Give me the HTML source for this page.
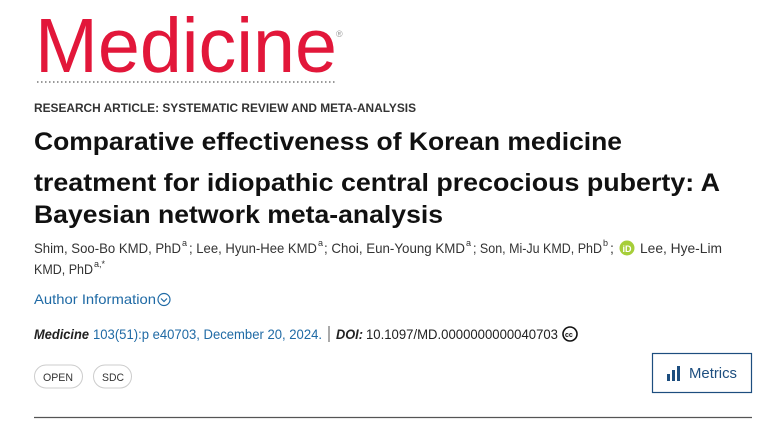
<!DOCTYPE html>
<html><head><meta charset="utf-8"><style>
html,body{margin:0;padding:0;background:#fff;width:773px;height:423px;overflow:hidden}
svg{display:block}
text{font-family:"Liberation Sans",sans-serif}
</style></head><body>
<svg width="773" height="423" viewBox="0 0 773 423">
<text x="35" y="72" font-size="77" fill="#e2173a" textLength="302" lengthAdjust="spacingAndGlyphs">Medicine</text>
<text x="336" y="37" font-size="9" fill="#999">®</text>
<line x1="37" y1="82" x2="337" y2="82" stroke="#999" stroke-width="2" stroke-dasharray="1.5 2.5"/>
<text x="34" y="112" font-size="12" font-weight="bold" fill="#333" textLength="382" lengthAdjust="spacingAndGlyphs">RESEARCH ARTICLE: SYSTEMATIC REVIEW AND META-ANALYSIS</text>
<g font-size="25" font-weight="bold" fill="#111">
<text x="34" y="150" textLength="588" lengthAdjust="spacingAndGlyphs">Comparative effectiveness of Korean medicine</text>
<text x="34" y="191" textLength="686" lengthAdjust="spacingAndGlyphs">treatment for idiopathic central precocious puberty: A</text>
<text x="34" y="223" textLength="409" lengthAdjust="spacingAndGlyphs">Bayesian network meta-analysis</text>
</g>
<g font-size="14" fill="#333">
<text x="34" y="253" textLength="147" lengthAdjust="spacingAndGlyphs">Shim, Soo-Bo KMD, PhD</text>
<text x="182" y="246" font-size="9">a</text>
<text x="189" y="253" textLength="128" lengthAdjust="spacingAndGlyphs">; Lee, Hyun-Hee KMD</text>
<text x="318" y="246" font-size="9">a</text>
<text x="324" y="253" textLength="141" lengthAdjust="spacingAndGlyphs">; Choi, Eun-Young KMD</text>
<text x="466" y="246" font-size="9">a</text>
<text x="473" y="253" textLength="129" lengthAdjust="spacingAndGlyphs">; Son, Mi-Ju KMD, PhD</text>
<text x="603" y="246" font-size="9">b</text>
<text x="610" y="253">;</text>
<g><circle cx="627" cy="248" r="7.5" fill="#a6ce39"/><text x="622.5" y="252" font-size="9" fill="#fff" font-weight="bold">iD</text></g>
<text x="640" y="253" textLength="82" lengthAdjust="spacingAndGlyphs">Lee, Hye-Lim</text>
<text x="34" y="274" textLength="59" lengthAdjust="spacingAndGlyphs">KMD, PhD</text>
<text x="94" y="267" font-size="9">a,*</text>
</g>
<g>
<text x="34" y="304" font-size="14" fill="#1f6aa5" textLength="122" lengthAdjust="spacingAndGlyphs">Author Information</text>
<circle cx="164" cy="299.5" r="6" fill="none" stroke="#1f6aa5" stroke-width="1.2"/>
<path d="M161 298.5 L164 301.5 L167 298.5" fill="none" stroke="#1f6aa5" stroke-width="1.2"/>
</g>
<g font-size="14">
<text x="34" y="339" font-weight="bold" font-style="italic" fill="#222" textLength="55" lengthAdjust="spacingAndGlyphs">Medicine</text>
<text x="93" y="339" fill="#1f6aa5" textLength="229" lengthAdjust="spacingAndGlyphs">103(51):p e40703, December 20, 2024.</text>
<line x1="329" y1="326" x2="329" y2="342" stroke="#555" stroke-width="1"/>
<text x="336" y="339" font-weight="bold" font-style="italic" fill="#222" textLength="27" lengthAdjust="spacingAndGlyphs">DOI:</text>
<text x="366" y="339" fill="#222" textLength="192" lengthAdjust="spacingAndGlyphs">10.1097/MD.0000000000040703</text>
<g><circle cx="570" cy="334" r="7" fill="#fff" stroke="#111" stroke-width="1.6"/><text x="565" y="337" font-size="7" font-weight="bold" fill="#111">cc</text></g>
</g>
<g>
<rect x="34.5" y="365" width="48" height="23" rx="11.5" fill="#fff" stroke="#ccc"/>
<text x="43" y="381" font-size="11" fill="#333" textLength="30" lengthAdjust="spacingAndGlyphs">OPEN</text>
</g>
<g>
<rect x="93.5" y="365" width="38" height="23" rx="11.5" fill="#fff" stroke="#ccc"/>
<text x="102" y="381" font-size="11" fill="#333" textLength="22" lengthAdjust="spacingAndGlyphs">SDC</text>
</g>
<g>
<rect x="652.5" y="353.5" width="99" height="39" fill="#fff" stroke="#1d4e7f" stroke-width="1.2"/>
<rect x="667" y="374" width="3" height="7" fill="#1d4e7f"/>
<rect x="672" y="370" width="3" height="11" fill="#1d4e7f"/>
<rect x="677" y="366" width="3" height="15" fill="#1d4e7f"/>
<text x="689" y="378" font-size="15" fill="#1d4e7f" textLength="48" lengthAdjust="spacingAndGlyphs">Metrics</text>
</g>
<line x1="34" y1="417.5" x2="752" y2="417.5" stroke="#555" stroke-width="1.2"/>
</svg>
</body></html>
